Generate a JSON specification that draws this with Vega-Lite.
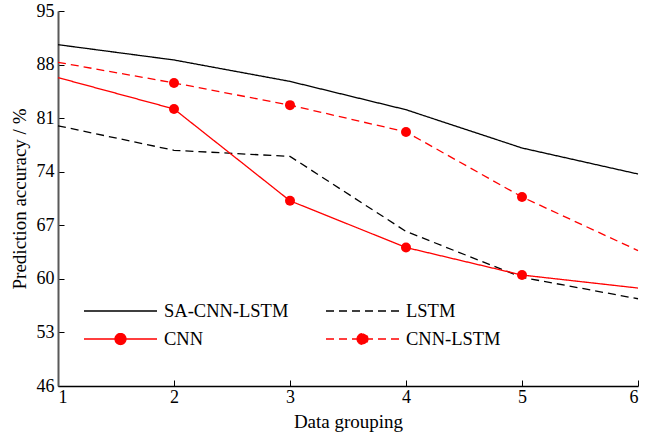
{
  "$schema": "https://vega.github.io/schema/vega-lite/v6.json",
  "width": 580,
  "height": 375,
  "autosize": "none",
  "padding": {"left": 58, "top": 11, "right": 7, "bottom": 52},
  "background": "white",
  "config": {
    "view": {"stroke": null},
    "font": "Liberation Serif",
    "axis": {"labelFont": "Liberation Serif", "titleFont": "Liberation Serif", "labelFontSize": 18, "titleFontSize": 19, "titleFontWeight": "normal", "labelColor": "#000", "titleColor": "#000", "grid": false, "tickColor": "#000"},
    "legend": {
      "orient": "none", "legendX": 25, "legendY": 286, "columns": 2, "direction": "horizontal",
      "padding": 0, "clipHeight": 28, "rowPadding": 0, "columnPadding": 36,
      "symbolType": "stroke", "symbolSize": 5329, "symbolStrokeWidth": 1.3, "labelOffset": 6,
      "symbolFillColor": "#ff0000", "symbolOpacity": 1,
      "labelFont": "Liberation Serif", "labelFontSize": 18.5, "labelColor": "#000", "labelLimit": 300
    }
  },
  "data": {
    "values": [
      {"series": "SA-CNN-LSTM", "x": 1, "y": 90.6},
      {"series": "SA-CNN-LSTM", "x": 2, "y": 88.6},
      {"series": "SA-CNN-LSTM", "x": 3, "y": 85.8},
      {"series": "SA-CNN-LSTM", "x": 4, "y": 82.1},
      {"series": "SA-CNN-LSTM", "x": 5, "y": 77.1},
      {"series": "SA-CNN-LSTM", "x": 6, "y": 73.7},
      {"series": "LSTM", "x": 1, "y": 80.0},
      {"series": "LSTM", "x": 2, "y": 76.8},
      {"series": "LSTM", "x": 3, "y": 76.0},
      {"series": "LSTM", "x": 4, "y": 66.2},
      {"series": "LSTM", "x": 5, "y": 60.2},
      {"series": "LSTM", "x": 6, "y": 57.4},
      {"series": "CNN", "x": 1, "y": 86.3},
      {"series": "CNN", "x": 2, "y": 82.2},
      {"series": "CNN", "x": 3, "y": 70.2},
      {"series": "CNN", "x": 4, "y": 64.1},
      {"series": "CNN", "x": 5, "y": 60.5},
      {"series": "CNN", "x": 6, "y": 58.8},
      {"series": "CNN-LSTM", "x": 1, "y": 88.3},
      {"series": "CNN-LSTM", "x": 2, "y": 85.6},
      {"series": "CNN-LSTM", "x": 3, "y": 82.7},
      {"series": "CNN-LSTM", "x": 4, "y": 79.2},
      {"series": "CNN-LSTM", "x": 5, "y": 70.7},
      {"series": "CNN-LSTM", "x": 6, "y": 63.7}
    ]
  },
  "encoding": {
    "x": {"field": "x", "type": "quantitative", "scale": {"domain": [1, 6], "nice": false, "zero": false},
      "axis": {"title": "Data grouping", "values": [1, 2, 3, 4, 5, 6], "format": "d", "tickSize": -6, "labelPadding": 8, "labelFontSize": 18, "labelFont": "Liberation Serif", "domainColor": "#000", "domainWidth": 1.5, "titlePadding": 6}},
    "y": {"field": "y", "type": "quantitative", "scale": {"domain": [46, 95], "nice": false, "zero": false},
      "axis": {"title": "Prediction accuracy / %", "values": [46, 53, 60, 67, 74, 81, 88, 95], "tickSize": -6, "labelPadding": 10, "labelFontSize": 18, "labelFont": "Liberation Serif", "domainColor": "#595959", "domainWidth": 2, "titlePadding": 7}}
  },
  "layer": [
    {
      "mark": {"type": "line", "strokeWidth": 1.3},
      "encoding": {
        "color": {"field": "series", "type": "nominal",
          "scale": {"domain": ["SA-CNN-LSTM", "LSTM", "CNN", "CNN-LSTM"], "range": ["#000000", "#000000", "#ff0000", "#ff0000"]},
          "legend": {"title": null}},
        "strokeDash": {"field": "series", "type": "nominal",
          "scale": {"domain": ["SA-CNN-LSTM", "LSTM", "CNN", "CNN-LSTM"], "range": [[1, 0], [8, 5], [1, 0], [8, 5]]},
          "legend": {"title": null}},
        "detail": {"field": "series"}
      }
    },
    {
      "transform": [{"filter": "(datum.series === 'CNN' || datum.series === 'CNN-LSTM') && datum.x >= 2 && datum.x <= 5"}],
      "mark": {"type": "point", "filled": true, "color": "#ff0000", "opacity": 1, "size": 100}
    },
    {
      "transform": [{"filter": "false"}],
      "mark": {"type": "point", "filled": true, "color": "#ff0000"},
      "encoding": {
        "shape": {"field": "series", "type": "nominal",
          "scale": {"domain": ["SA-CNN-LSTM", "LSTM", "CNN", "CNN-LSTM"], "range": ["stroke", "stroke", "M-1,0L1,0M-0.15,0A0.15,0.15,0,1,1,0.15,0A0.15,0.15,0,1,1,-0.15,0Z", "M-1,0L1,0M-0.15,0A0.15,0.15,0,1,1,0.15,0A0.15,0.15,0,1,1,-0.15,0Z"]},
          "legend": {"title": null}}
      }
    }
  ]
}
